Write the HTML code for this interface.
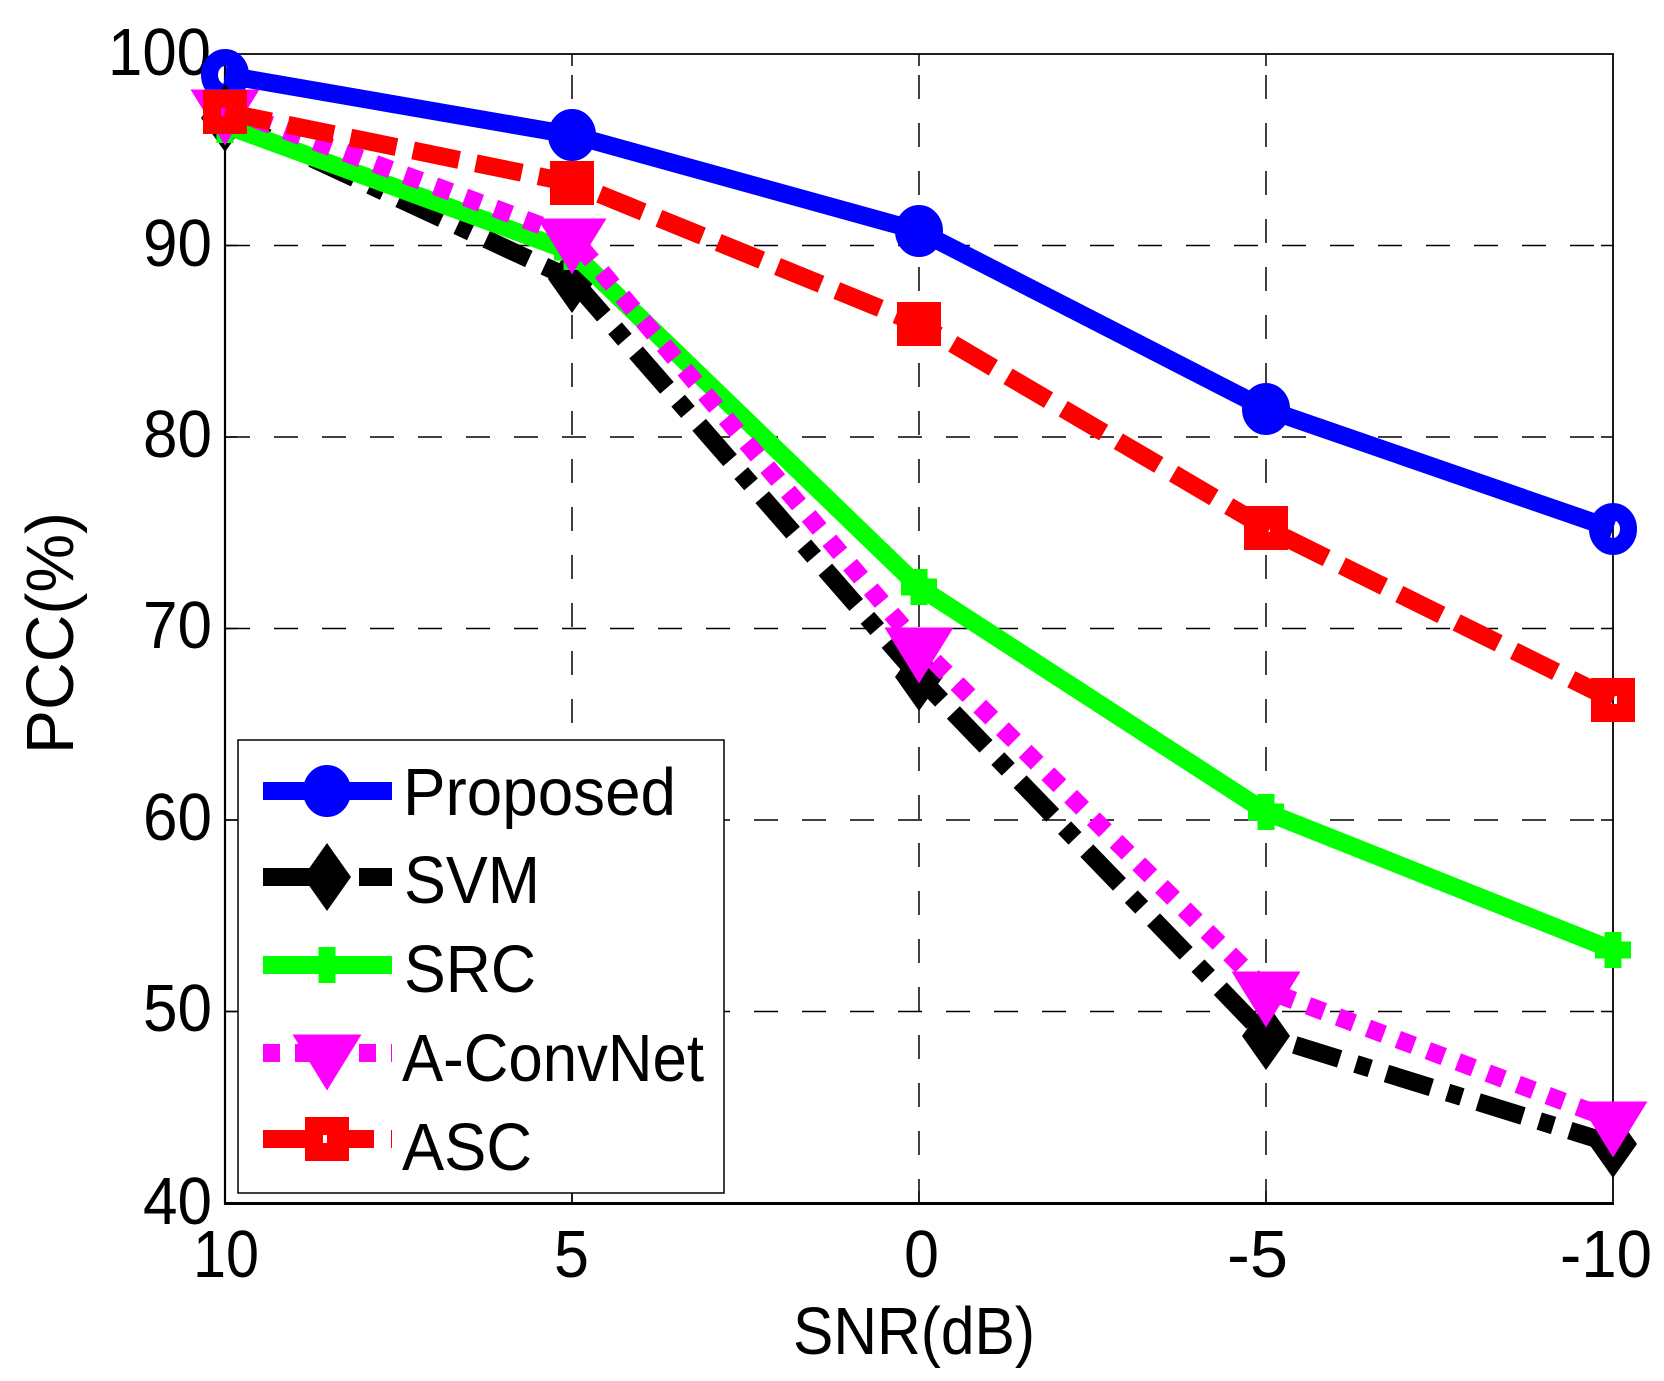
<!DOCTYPE html>
<html><head><meta charset="utf-8"><style>
html,body{margin:0;padding:0;background:#fff;}
svg{display:block;}
text{font-family:"Liberation Sans",Arial,sans-serif;font-size:67px;fill:#000;}
</style></head><body>
<svg width="1664" height="1381" viewBox="0 0 1664 1381" xmlns="http://www.w3.org/2000/svg">
<rect x="0" y="0" width="1664" height="1381" fill="#fff"/>
<!-- grid -->
<g stroke="#000" stroke-width="1.5" stroke-dasharray="24 24" fill="none">
<line x1="226" y1="245.5" x2="1613" y2="245.5"/>
<line x1="226" y1="437" x2="1613" y2="437"/>
<line x1="226" y1="628.5" x2="1613" y2="628.5"/>
<line x1="226" y1="820" x2="1613" y2="820"/>
<line x1="226" y1="1011.5" x2="1613" y2="1011.5"/>
<line x1="572" y1="1203" x2="572" y2="54"/>
<line x1="919" y1="1203" x2="919" y2="54"/>
<line x1="1266" y1="1203" x2="1266" y2="54"/>
</g>
<!-- axes box -->
<g stroke="#000" fill="none">
<line x1="225" y1="54" x2="1614" y2="54" stroke-width="1.8"/>
<line x1="225" y1="54" x2="225" y2="1204" stroke-width="2.2"/>
<line x1="1613" y1="54" x2="1613" y2="1204" stroke-width="1.8"/>
<line x1="224" y1="1203.5" x2="1614" y2="1203.5" stroke-width="3"/>
</g>
<!-- ticks -->
<g stroke="#000" stroke-width="1.5">
<line x1="572" y1="1203" x2="572" y2="1191"/><line x1="919" y1="1203" x2="919" y2="1191"/><line x1="1266" y1="1203" x2="1266" y2="1191"/>
<line x1="572" y1="54" x2="572" y2="66"/><line x1="919" y1="54" x2="919" y2="66"/><line x1="1266" y1="54" x2="1266" y2="66"/>
<line x1="225" y1="245.5" x2="237" y2="245.5"/><line x1="225" y1="437" x2="237" y2="437"/><line x1="225" y1="628.5" x2="237" y2="628.5"/><line x1="225" y1="820" x2="237" y2="820"/><line x1="225" y1="1011.5" x2="237" y2="1011.5"/>
<line x1="1613" y1="245.5" x2="1601" y2="245.5"/><line x1="1613" y1="437" x2="1601" y2="437"/><line x1="1613" y1="628.5" x2="1601" y2="628.5"/><line x1="1613" y1="820" x2="1601" y2="820"/><line x1="1613" y1="1011.5" x2="1601" y2="1011.5"/>
</g>
<!-- y tick labels -->
<text x="108" y="75" textLength="103" lengthAdjust="spacingAndGlyphs">100</text>
<text x="143" y="266" textLength="69" lengthAdjust="spacingAndGlyphs">90</text>
<text x="143" y="457" textLength="69" lengthAdjust="spacingAndGlyphs">80</text>
<text x="143" y="648" textLength="69" lengthAdjust="spacingAndGlyphs">70</text>
<text x="143" y="840" textLength="69" lengthAdjust="spacingAndGlyphs">60</text>
<text x="143" y="1031" textLength="69" lengthAdjust="spacingAndGlyphs">50</text>
<text x="143" y="1224" textLength="69" lengthAdjust="spacingAndGlyphs">40</text>
<!-- x tick labels -->
<text x="193" y="1277" textLength="66" lengthAdjust="spacingAndGlyphs">10</text>
<text x="554" y="1277" textLength="35" lengthAdjust="spacingAndGlyphs">5</text>
<text x="904" y="1277" textLength="35" lengthAdjust="spacingAndGlyphs">0</text>
<text x="1227" y="1277" textLength="61" lengthAdjust="spacingAndGlyphs">-5</text>
<text x="1560" y="1277" textLength="92" lengthAdjust="spacingAndGlyphs">-10</text>
<!-- axis labels -->
<text x="793" y="1354" textLength="242" lengthAdjust="spacingAndGlyphs">SNR(dB)</text>
<text transform="translate(73,754) rotate(-90)" x="0" y="0" textLength="242" lengthAdjust="spacingAndGlyphs">PCC(%)</text>

<!-- Proposed -->
<polyline points="225,75 572,135 919,231 1266,409 1613,529" fill="none" stroke="#0000ff" stroke-width="18" stroke-linejoin="round"/>
<g fill="none" stroke="#0000ff" stroke-width="17">
<ellipse cx="225" cy="75" rx="15.5" ry="17.5"/>
<ellipse cx="572" cy="135" rx="15.5" ry="17.5"/>
<ellipse cx="919" cy="231" rx="15.5" ry="17.5"/>
<ellipse cx="1266" cy="409" rx="15.5" ry="17.5"/>
<ellipse cx="1613" cy="529" rx="15.5" ry="17.5"/>
</g>
<!-- SVM -->
<polyline points="225,118 572,279 919,677 1266,1036 1613,1144" fill="none" stroke="#000" stroke-width="18" stroke-dasharray="47 17 15 17"/>
<g fill="#000">
<polygon points="225,84 249,118 225,152 201,118"/>
<polygon points="572,245 596,279 572,313 548,279"/>
<polygon points="919,643 943,677 919,711 895,677"/>
<polygon points="1266,1002 1290,1036 1266,1070 1242,1036"/>
<polygon points="1613,1110 1637,1144 1613,1178 1589,1144"/>
</g>
<!-- SRC -->
<polyline points="225,125 572,252 919,587 1266,812 1613,950" fill="none" stroke="#00ff00" stroke-width="18"/>
<g fill="#00ff00">
<rect x="216.5" y="107" width="17" height="36"/><rect x="207" y="116.5" width="36" height="17"/>
<rect x="563.5" y="234" width="17" height="36"/><rect x="554" y="243.5" width="36" height="17"/>
<rect x="910.5" y="569" width="17" height="36"/><rect x="901" y="578.5" width="36" height="17"/>
<rect x="1257.5" y="794" width="17" height="36"/><rect x="1248" y="803.5" width="36" height="17"/>
<rect x="1604.5" y="932" width="17" height="36"/><rect x="1595" y="941.5" width="36" height="17"/>
</g>
<!-- A-ConvNet -->
<polyline points="225,108 572,237 919,646 1266,990 1613,1120" fill="none" stroke="#ff00ff" stroke-width="18" stroke-dasharray="17 15"/>
<g fill="#ff00ff">
<polygon points="190.5,89.5 259.5,89.5 225,145.5"/>
<polygon points="537.5,218.5 606.5,218.5 572,274.5"/>
<polygon points="884.5,627.5 953.5,627.5 919,683.5"/>
<polygon points="1231.5,971.5 1300.5,971.5 1266,1027.5"/>
<polygon points="1578.5,1101.5 1647.5,1101.5 1613,1157.5"/>
</g>
<!-- ASC -->
<polyline points="225,112 572,183 919,324 1266,528 1613,700" fill="none" stroke="#ff0000" stroke-width="18" stroke-dasharray="47 17"/>
<g fill="none" stroke="#ff0000" stroke-width="18">
<rect x="212" y="99" width="26" height="26"/>
<rect x="559" y="170" width="26" height="26"/>
<rect x="906" y="311" width="26" height="26"/>
<rect x="1253" y="515" width="26" height="26"/>
<rect x="1600" y="687" width="26" height="26"/>
</g>

<!-- legend -->
<rect x="238" y="740" width="486" height="453" fill="#fff" stroke="#000" stroke-width="1.5"/>
<line x1="263" y1="791" x2="392" y2="791" stroke="#0000ff" stroke-width="18"/>
<ellipse cx="327" cy="791" rx="15.5" ry="17.5" fill="#0000ff" stroke="#0000ff" stroke-width="17"/>
<line x1="263" y1="877" x2="392" y2="877" stroke="#000" stroke-width="18" stroke-dasharray="47 17 15 17"/>
<polygon points="327,843 351,877 327,911 303,877" fill="#000"/>
<line x1="263" y1="965" x2="392" y2="965" stroke="#00ff00" stroke-width="18"/>
<rect x="318.5" y="947" width="17" height="36" fill="#00ff00"/>
<line x1="263" y1="1053" x2="392" y2="1053" stroke="#ff00ff" stroke-width="18" stroke-dasharray="17 15"/>
<polygon points="292.5,1034.5 361.5,1034.5 327,1090.5" fill="#ff00ff"/>
<line x1="263" y1="1139" x2="392" y2="1139" stroke="#ff0000" stroke-width="18" stroke-dasharray="47 17"/>
<rect x="314" y="1126" width="26" height="26" fill="none" stroke="#ff0000" stroke-width="18"/>
<text x="403" y="815" textLength="273" lengthAdjust="spacingAndGlyphs">Proposed</text>
<text x="404" y="903" textLength="136" lengthAdjust="spacingAndGlyphs">SVM</text>
<text x="404" y="992" textLength="132" lengthAdjust="spacingAndGlyphs">SRC</text>
<text x="402" y="1081" textLength="302" lengthAdjust="spacingAndGlyphs">A-ConvNet</text>
<text x="402" y="1170" textLength="130" lengthAdjust="spacingAndGlyphs">ASC</text>
</svg>
</body></html>
